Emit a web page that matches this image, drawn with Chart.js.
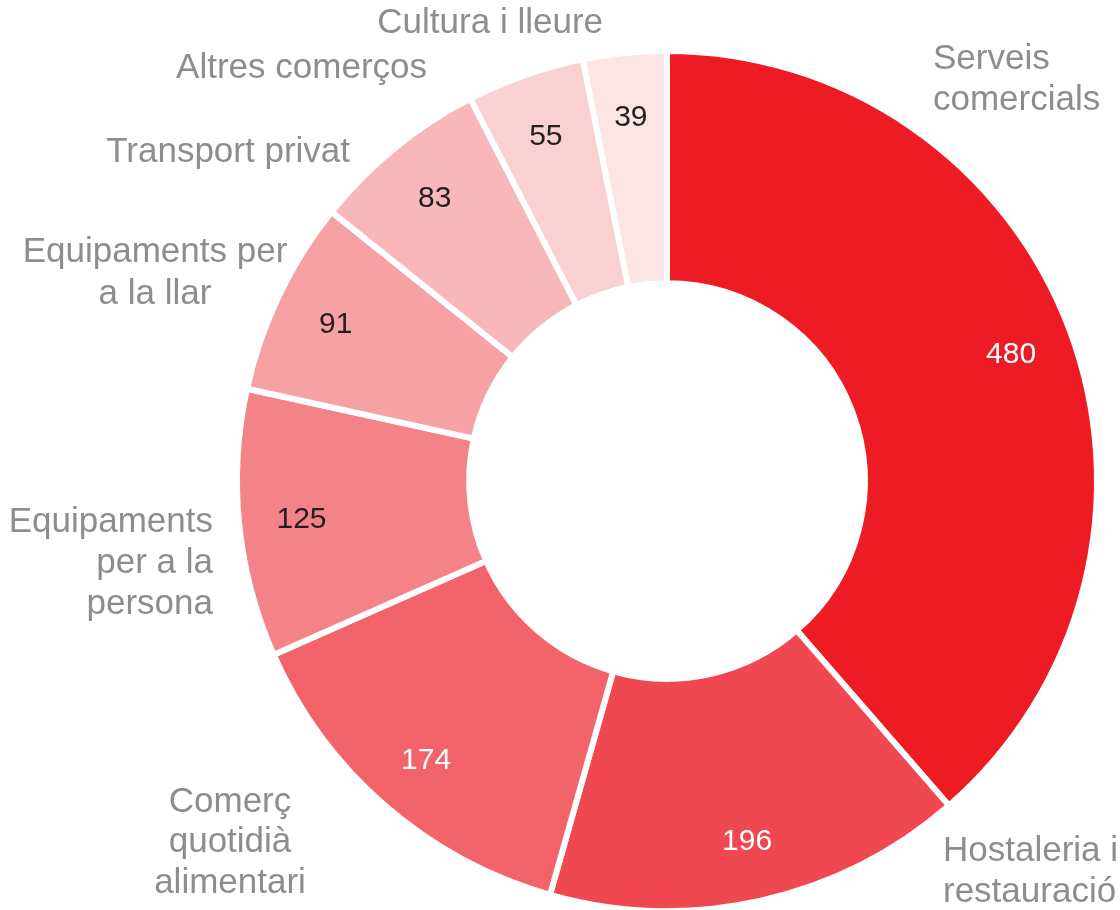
<!DOCTYPE html>
<html>
<head>
<meta charset="utf-8">
<title>Establiments per sector</title>
<script src="https://cdn.jsdelivr.net/npm/chart.js@4/dist/chart.umd.min.js"></script>
<style>
  html, body { margin: 0; padding: 0; background: #fff; }
  #wrap { width: 1120px; height: 910px; }
</style>
</head>
<body>
<div id="wrap"><canvas id="sectors" width="1120" height="910"></canvas></div>
<script>
const categories = [
  'Serveis comercials',
  'Hostaleria i restauració',
  'Comerç quotidià alimentari',
  'Equipaments per a la persona',
  'Equipaments per a la llar',
  'Transport privat',
  'Altres comerços',
  'Cultura i lleure'
];
const counts = [480, 196, 174, 125, 91, 83, 55, 39];
const sliceColors = ['#ED1C24', '#EF4850', '#F2636A', '#F48389', '#F6A1A4', '#F8B7B9', '#FAD1D3', '#FDE5E6'];
const valueColors = ['#ffffff', '#ffffff', '#ffffff', '#231f20', '#231f20', '#231f20', '#231f20', '#231f20'];

// where the category names sit around the ring, one entry per slice
const nameLayout = [
  { x: 933, align: 'left',   lines: ['Serveis', 'comercials'],               baselines: [69, 110] },
  { x: 943, align: 'left',   lines: ['Hostaleria i', 'restauració'],          baselines: [861, 902] },
  { x: 230, align: 'center', lines: ['Comerç', 'quotidià', 'alimentari'],     baselines: [812, 852, 893] },
  { x: 213, align: 'right',  lines: ['Equipaments', 'per a la', 'persona'],   baselines: [532, 573, 614] },
  { x: 155, align: 'center', lines: ['Equipaments per', 'a la llar'],         baselines: [262, 304] },
  { x: 350, align: 'right',  lines: ['Transport privat'],                     baselines: [162] },
  { x: 427, align: 'right',  lines: ['Altres comerços'],                      baselines: [78] },
  { x: 603, align: 'right',  lines: ['Cultura i lleure'],                     baselines: [33] }
];

const FONT = '"Liberation Sans", Arial, Helvetica, sans-serif';

const sliceLabels = {
  id: 'sliceLabels',
  afterDatasetsDraw(chart) {
    const ctx = chart.ctx;
    const meta = chart.getDatasetMeta(0);
    ctx.save();
    // value inside each slice, placed along its middle angle
    ctx.font = '30px ' + FONT;
    ctx.textAlign = 'center';
    ctx.textBaseline = 'middle';
    meta.data.forEach((arc, i) => {
      const p = arc.getProps(['x', 'y', 'startAngle', 'endAngle', 'innerRadius', 'outerRadius'], true);
      const mid = (p.startAngle + p.endAngle) / 2;
      const r = p.innerRadius + 0.73 * (p.outerRadius - p.innerRadius);
      ctx.fillStyle = valueColors[i];
      ctx.fillText(String(counts[i]), p.x + Math.cos(mid) * r, p.y + Math.sin(mid) * r + 2);
    });

    // category names outside the ring
    ctx.font = '35px ' + FONT;
    ctx.fillStyle = '#8d8d8f';
    ctx.textBaseline = 'alphabetic';
    nameLayout.forEach(n => {
      ctx.textAlign = n.align;
      n.lines.forEach((line, k) => ctx.fillText(line, n.x, n.baselines[k]));
    });
    ctx.restore();
  }
};

new Chart(document.getElementById('sectors'), {
  type: 'doughnut',
  data: {
    labels: categories,
    datasets: [{
      data: counts,
      backgroundColor: sliceColors,
      borderColor: '#ffffff',
      borderWidth: 6,
      radius: 430,
      cutout: 196
    }]
  },
  options: {
    responsive: false,
    animation: false,
    layout: { padding: { left: 214, top: 52, right: 0, bottom: 0 } },
    plugins: {
      legend: { display: false },
      tooltip: { enabled: false }
    }
  },
  plugins: [sliceLabels]
});
</script>
</body>
</html>
